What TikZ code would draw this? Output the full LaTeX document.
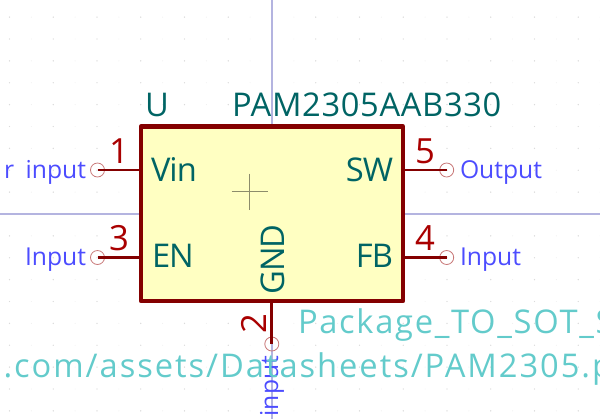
\documentclass[tikz,border=0pt]{standalone}
\usepackage{fontspec}
\usepackage{tikz}
\usetikzlibrary{positioning}
\setmainfont{Open Sans}
\newfontfamily\wide[LetterSpace=2]{Open Sans}
\newfontfamily\wider[LetterSpace=6]{Open Sans}
\newfontfamily\widish[LetterSpace=5.2]{Open Sans}
\newfontfamily\tight[LetterSpace=-3]{Open Sans}
\definecolor{bodyline}{HTML}{840000}
\definecolor{bodyfill}{HTML}{FFFFC2}
\definecolor{pinnum}{HTML}{A90000}
\definecolor{pinend}{HTML}{C87878}
\definecolor{reftext}{HTML}{006464}
\definecolor{pintype}{HTML}{4C4CFF}
\definecolor{hidden}{HTML}{63CBCB}
\definecolor{axisline}{HTML}{B4B4E0}
\begin{document}
\begin{tikzpicture}[
  x=0.75pt, y=-0.75pt,
  every node/.style={inner sep=0pt, outer sep=0pt},
  refname/.style={text=reftext, font=\fontsize{24.5}{24.5}\selectfont\wide},
  pinname/.style={text=reftext, font=\fontsize{24.5}{24.5}\selectfont\tight},
  pinno/.style={text=pinnum, font=\fontsize{26}{26}\selectfont},
  etype/.style={text=pintype, font=\fontsize{18.5}{18.5}\selectfont},
  fieldtext/.style={text=hidden, font=\fontsize{24.5}{24.5}\selectfont\wider},
  pinline/.style={draw=bodyline, line width=2pt},
  pinhole/.style={circle, draw=pinend, line width=0.6pt, minimum size=10.5pt}
]
\useasboundingbox (0,0) rectangle (600,419);
\clip (0,0) rectangle (600,419);
% grid
\foreach \gx in {-13,...,15} \foreach \gy in {-10,...,10}
  \fill[black!6] ({272+21.875*\gx},{214+21.875*\gy}) circle (0.4pt);
\foreach \gx in {-6,...,7} \foreach \gy in {-10,...,10}
  \fill[black!14] ({272+43.75*\gx},{214+21.875*\gy}) circle (0.5pt);
% axes
\draw[axisline, line width=0.9pt] (272,0) -- (272,419);
\draw[axisline, line width=0.9pt] (0,214) -- (600,214);
% symbol
\node (body) [draw=bodyline, fill=bodyfill, line width=3.2pt, line join=round,
  minimum width=196.5pt, minimum height=130.9pt, anchor=north west] at (141,126.5) {};
\draw[black!45!bodyfill, line width=0.6pt] (231.5,191.7) -- (267.5,191.7);
\draw[black!45!bodyfill, line width=0.6pt] (249.5,173.7) -- (249.5,209.7);
% pin ends
\node (p1) [pinhole] at (97.5,170) {};
\node (p3) [pinhole] at (97.5,257.5) {};
\node (p5) [pinhole] at (446.7,170) {};
\node (p4) [pinhole] at (446.7,257.5) {};
\node (p2) [pinhole] at (271.8,344) {};
\draw[pinline] (p1.center) -- (body.west |- p1.center);
\draw[pinline] (p3.center) -- (body.west |- p3.center);
\draw[pinline] (p5.center) -- (body.east |- p5.center);
\draw[pinline] (p4.center) -- (body.east |- p4.center);
\draw[pinline] (p2.center) -- (p2.center |- body.south);
% labels
\node (ref) [refname, anchor=base west] at (145,116) {U};
\node (val) [refname, anchor=base west] at (232,116) {PAM2305AAB330};
\node (vin) [pinname, anchor=base west] at (151,181) {Vin};
\node (en)  [pinname, anchor=base west] at (152,267) {EN};
\node (sw)  [pinname, anchor=base east] at (393,181) {SW};
\node (fb)  [pinname, anchor=base east] at (393,267) {FB};
\node (gnd) [pinname, anchor=base, rotate=90] at (284,259.5) {GND};
\node (n1) [pinno, anchor=base] at (119,163) {1};
\node (n3) [pinno, anchor=base] at (119,250.5) {3};
\node (n5) [pinno, anchor=base] at (425,163) {5};
\node (n4) [pinno, anchor=base] at (425,250.5) {4};
\node (n2) [pinno, anchor=base, rotate=90] at (266,323.5) {2};
\node (t1) [etype, anchor=base east] at (86,178) {r\hspace{3.75pt} input};
\node (t3) [etype, anchor=base east] at (86,265.5) {Input};
\node (t5) [etype, anchor=base west] at (460,178) {Output};
\node (t4) [etype, anchor=base west] at (460,265.5) {Input};
\node (t2) [etype, anchor=base east, rotate=90] at (278,356) {input};
\node (fp) [fieldtext, anchor=base west, font=\fontsize{24.5}{24.5}\selectfont\widish] at (298,333) {Package\_TO\_SOT\_S};
\node (ds) [fieldtext, anchor=base west] at (-14,377) {s.com/assets/Datasheets/PAM2305.p};
\end{tikzpicture}
\end{document}
